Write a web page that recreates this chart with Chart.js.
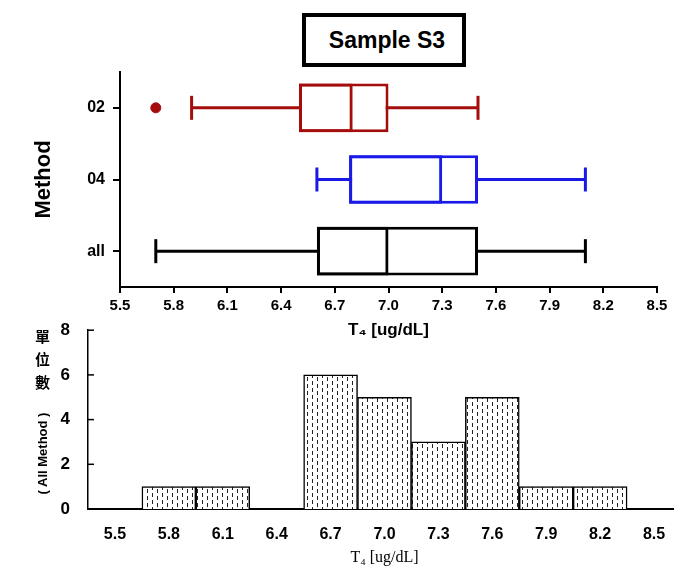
<!DOCTYPE html>
<html>
<head>
<meta charset="utf-8">
<script src="https://cdn.jsdelivr.net/npm/chart.js@4/dist/chart.umd.min.js"></script>
<style>
    body { margin: 0; width: 674px; height: 571px; overflow: hidden; background: #fff; position: relative; }
    #topChart { position: absolute; left: 0; top: 0; }
    #histChart { position: absolute; left: 0; top: 310px; }
    .titleBox {
        position: absolute; left: 302px; top: 13px; width: 164px; height: 54px;
        box-sizing: border-box; border: 4px solid #000; background: #fff;
        font: bold 23px "Liberation Sans", Arial, sans-serif;
        display: flex; align-items: center; justify-content: center; padding-left: 6px;
    }
    .cjkLabel {
        position: absolute; left: 32px; top: 329px; writing-mode: vertical-rl;
        font: bold 15px "Noto Sans CJK TC", sans-serif; letter-spacing: 8px;
    }
    .methodLabel {
        position: absolute; left: -8px; top: 446px; width: 100px; text-align: center;
        transform: rotate(-90deg);
        font: bold 13px "Liberation Sans", Arial, sans-serif;
    }
</style>
</head>
<body>
<div class="titleBox">Sample S3</div>
<canvas id="topChart"></canvas>
<canvas id="histChart"></canvas>
<div class="cjkLabel">單位數</div>
<div class="methodLabel">( All Method )</div>

<script>
// box plot values
const methods = ["02", "04", "all"];
const whiskerLow = [5.9, 6.6, 5.7];
const q1 = [6.5, 6.78, 6.6];
const median = [6.8, 7.3, 7.0];
const q3 = [7.0, 7.5, 7.5];
const whiskerHigh = [7.5, 8.1, 8.1];
const outliers = [[5.7], [], []];
const boxColors = ["#a50d0d", "#1a1ae8", "#000000"];
const xTicks = [5.5, 5.8, 6.1, 6.4, 6.7, 7.0, 7.3, 7.6, 7.9, 8.2, 8.5];

// histogram
const binLabels = ["5.5", "5.8", "6.1", "6.4", "6.7", "7.0", "7.3", "7.6", "7.9", "8.2", "8.5"];
const counts = [0, 1, 1, 0, 6, 5, 3, 5, 1, 1, 0];

const boldFont = { family: "'Liberation Sans', Arial, sans-serif", weight: "bold" };

function setSize(canvas, w, h) {
    canvas.width = w;
    canvas.height = h;
    canvas.style.width = w + "px";
    canvas.style.height = h + "px";
}

// ---------- top: box plot ----------
const topCanvas = document.getElementById("topChart");
setSize(topCanvas, 674, 345);

const whiskerSets = methods.map((m, i) => ({
    type: "line",
    data: [{ x: whiskerLow[i], y: m }, { x: whiskerHigh[i], y: m }],
    borderColor: boxColors[i],
    borderWidth: 3,
    pointStyle: "line",
    pointRotation: 90,
    pointRadius: 12,
    pointBorderWidth: 3,
    pointBorderColor: boxColors[i],
    order: 3
}));

const outlierPoints = [];
methods.forEach((m, i) => {
    outliers[i].forEach(v => outlierPoints.push({ x: v, y: m }));
});

new Chart(topCanvas, {
    type: "bar",
    data: {
        labels: methods,
        datasets: [
            ...whiskerSets,
            {
                data: methods.map((m, i) => [q1[i], q3[i]]),
                backgroundColor: "#ffffff",
                borderColor: boxColors,
                borderWidth: 3,
                borderSkipped: false,
                grouped: false,
                barPercentage: 0.68,
                categoryPercentage: 1,
                order: 2
            },
            {
                data: methods.map((m, i) => [q1[i], median[i]]),
                backgroundColor: "rgba(0,0,0,0)",
                borderColor: boxColors,
                borderWidth: 3,
                borderSkipped: false,
                grouped: false,
                barPercentage: 0.68,
                categoryPercentage: 1,
                order: 1
            },
            {
                type: "line",
                data: outlierPoints,
                showLine: false,
                pointStyle: "circle",
                pointRadius: 5,
                pointBackgroundColor: boxColors[0],
                pointBorderColor: boxColors[0],
                order: 0
            }
        ]
    },
    options: {
        indexAxis: "y",
        responsive: false,
        animation: false,
        layout: { padding: { left: 0, right: 17, top: 72, bottom: 0 } },
        plugins: { legend: { display: false }, tooltip: { enabled: false } },
        scales: {
            x: {
                type: "linear",
                min: 5.5,
                max: 8.5,
                afterFit: s => { s.height = 58; },
                afterBuildTicks: s => { s.ticks = xTicks.map(v => ({ value: v })); },
                border: { color: "#000", width: 2 },
                grid: { drawOnChartArea: false, color: "#000", lineWidth: 2, tickLength: 6 },
                ticks: {
                    color: "#000",
                    padding: 4,
                    font: { ...boldFont, size: 15 },
                    callback: v => v.toFixed(1)
                },
                title: {
                    display: true,
                    text: "T₄ [ug/dL]",
                    color: "#000",
                    font: { ...boldFont, size: 17 },
                    padding: { top: 0, bottom: 4 }
                }
            },
            y: {
                afterFit: s => { s.width = 120; },
                border: { color: "#000", width: 2 },
                grid: { drawOnChartArea: false, offset: false, color: "#000", lineWidth: 2, tickLength: 7 },
                ticks: { color: "#000", padding: 8, font: { ...boldFont, size: 16 } },
                title: {
                    display: true,
                    text: "Method",
                    color: "#000",
                    font: { ...boldFont, size: 22 },
                    padding: { top: 31, bottom: 0 }
                }
            }
        }
    }
});

// ---------- bottom: histogram ----------
function makeDotPattern() {
    const tile = document.createElement("canvas");
    tile.width = 10;
    tile.height = 14;
    const c = tile.getContext("2d");
    c.fillStyle = "#ffffff";
    c.fillRect(0, 0, 10, 14);
    c.fillStyle = "#222222";
    c.fillRect(2, 1, 1, 4);
    c.fillRect(2, 8, 1, 4);
    c.fillRect(7, 4, 1, 4);
    c.fillRect(7, 11, 1, 3);
    c.fillRect(7, 0, 1, 1);
    return c.createPattern(tile, "repeat");
}

const inwardTicks = {
    id: "inwardTicks",
    afterDraw(chart) {
        const ctx = chart.ctx;
        const y = chart.scales.y;
        ctx.save();
        ctx.strokeStyle = "#000";
        ctx.lineWidth = 1.5;
        y.ticks.forEach(t => {
            const py = y.getPixelForValue(t.value);
            ctx.beginPath();
            ctx.moveTo(chart.chartArea.left, py);
            ctx.lineTo(chart.chartArea.left + 6, py);
            ctx.stroke();
        });
        ctx.restore();
    }
};

const histCanvas = document.getElementById("histChart");
setSize(histCanvas, 700, 261);

new Chart(histCanvas, {
    type: "bar",
    data: {
        labels: binLabels,
        datasets: [{
            data: counts,
            backgroundColor: makeDotPattern(),
            borderColor: "#000",
            borderWidth: 1.5,
            barPercentage: 1,
            categoryPercentage: 1
        }]
    },
    options: {
        responsive: false,
        animation: false,
        layout: { padding: { left: 0, right: 19, top: 15, bottom: 0 } },
        plugins: { legend: { display: false }, tooltip: { enabled: false } },
        scales: {
            x: {
                afterFit: s => { s.height = 62; },
                border: { color: "#000", width: 2 },
                grid: { display: false },
                ticks: { color: "#000", padding: 8, font: { ...boldFont, size: 16 } },
                title: {
                    display: true,
                    text: "T₄ [ug/dL]",
                    color: "#000",
                    font: { family: "'Liberation Serif', 'Times New Roman', serif", size: 16 },
                    padding: { top: 0, bottom: 4 }
                }
            },
            y: {
                min: 0,
                max: 8,
                afterFit: s => { s.width = 88; },
                border: { color: "#000", width: 1.5 },
                grid: { display: false },
                ticks: { stepSize: 2, color: "#000", padding: 10, font: { ...boldFont, size: 17 } }
            }
        }
    },
    plugins: [inwardTicks]
});
</script>
</body>
</html>
